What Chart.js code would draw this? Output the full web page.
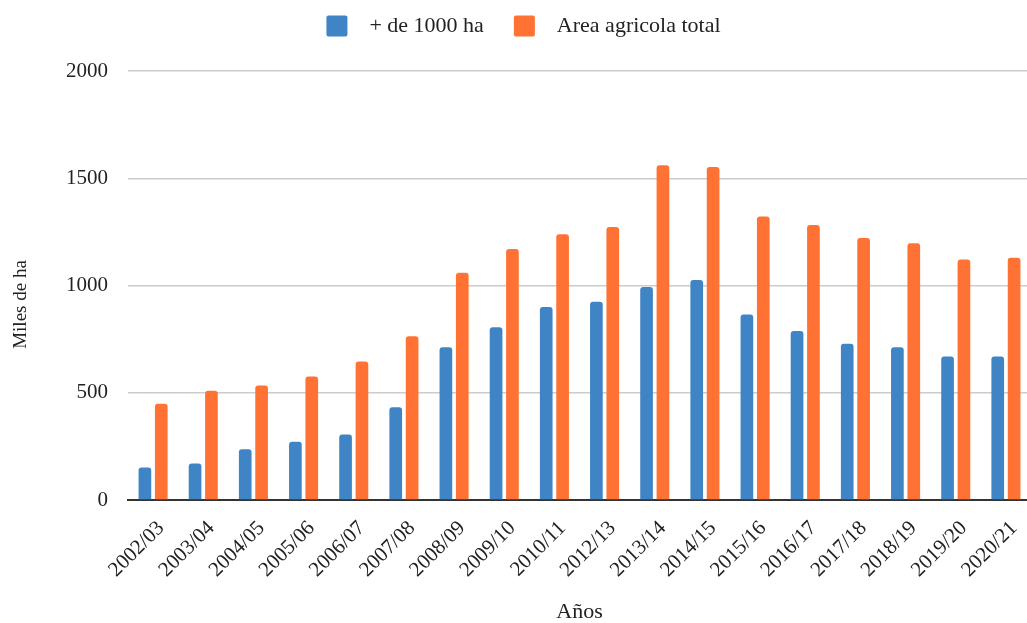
<!DOCTYPE html>
<html>
<head>
<meta charset="utf-8">
<script src="https://cdn.jsdelivr.net/npm/chart.js@4"></script>
<style>
  html, body { margin: 0; padding: 0; background: #fff; overflow: hidden; }
  #wrap { width: 1035px; height: 623px; position: relative; }
</style>
</head>
<body>
<div id="wrap"><canvas id="chart"></canvas></div>
<script>
// Data (miles de ha)
const years = ['2002/03', '2003/04', '2004/05', '2005/06', '2006/07', '2007/08', '2008/09', '2009/10', '2010/11',
               '2012/13', '2013/14', '2014/15', '2015/16', '2016/17', '2017/18', '2018/19', '2019/20', '2020/21'];
const over1000 = [152, 170, 237, 271, 305, 432, 712, 805, 900, 924, 993, 1026, 865, 788, 729, 712, 669, 669];
const totalArea = [449, 509, 534, 576, 646, 763, 1059, 1170, 1239, 1273, 1561, 1553, 1322, 1282, 1221, 1197, 1121, 1129];
const seriesNames = ['+ de 1000 ha', 'Area agricola total'];
const yTicks = [0, 500, 1000, 1500, 2000];

const serif = "'Liberation Serif', 'Times New Roman', serif";
Chart.defaults.font.family = serif;
Chart.defaults.color = '#222';

const ctx = document.getElementById('chart').getContext('2d');
new Chart(ctx, {
    type: 'bar',
    data: {
        labels: years,
        datasets: [
            {
                label: seriesNames[0],
                data: over1000,
                backgroundColor: '#3f85c6',
                borderRadius: 3,
                borderSkipped: 'start',
                categoryPercentage: 0.653,
                barPercentage: 0.774
            },
            {
                label: seriesNames[1],
                data: totalArea,
                backgroundColor: '#ff7233',
                borderRadius: 3,
                borderSkipped: 'start',
                categoryPercentage: 0.653,
                barPercentage: 0.774
            }
        ]
    },
    options: {
        responsive: true,
        maintainAspectRatio: false,
        animation: false,
        layout: { padding: { top: -15, right: 4, left: 16, bottom: 0 } },
        plugins: {
            tooltip: { enabled: false },
            legend: {
                position: 'top',
                weight: 3000,
                labels: {
                    font: { size: 22 },
                    color: '#222',
                    boxWidth: 21,
                    boxHeight: 21,
                    padding: 30,
                    useBorderRadius: true,
                    borderRadius: 2,
                    generateLabels: function(chart) {
                        const items = Chart.defaults.plugins.legend.labels.generateLabels(chart);
                        items.forEach(it => { it.text = '  ' + it.text; it.lineWidth = 0; });
                        return items;
                    }
                }
            },
            // empty spacer between legend and plot
            subtitle: {
                display: true,
                text: '',
                font: { size: 10 },
                padding: { top: 0, bottom: 12 }
            }
        },
        scales: {
            x: {
                afterFit: function(scale) { scale.height = 123; },
                grid: { display: false },
                border: { display: true, color: '#333', width: 2 },
                ticks: {
                    font: { size: 21 },
                    color: '#222',
                    minRotation: 45,
                    maxRotation: 45,
                    autoSkip: false,
                    labelOffset: 8,
                    padding: 8
                },
                title: {
                    display: true,
                    text: 'Años',
                    font: { size: 22 },
                    color: '#222',
                    padding: { top: 0, bottom: -2 }
                }
            },
            y: {
                min: 0,
                max: 2000,
                afterBuildTicks: function(scale) {
                    scale.ticks = yTicks.map(v => ({ value: v }));
                },
                afterFit: function(scale) { scale.width = 112; },
                grid: { color: '#cccccc', lineWidth: 1.5, drawTicks: false },
                border: { display: false },
                ticks: {
                    font: { size: 21 },
                    color: '#222',
                    padding: 20,
                    callback: v => String(v)
                },
                title: {
                    display: true,
                    text: 'Miles de ha        ',
                    font: { size: 19 },
                    color: '#222',
                    padding: { top: -6, bottom: 4 }
                }
            }
        }
    }
});
</script>
</body>
</html>
